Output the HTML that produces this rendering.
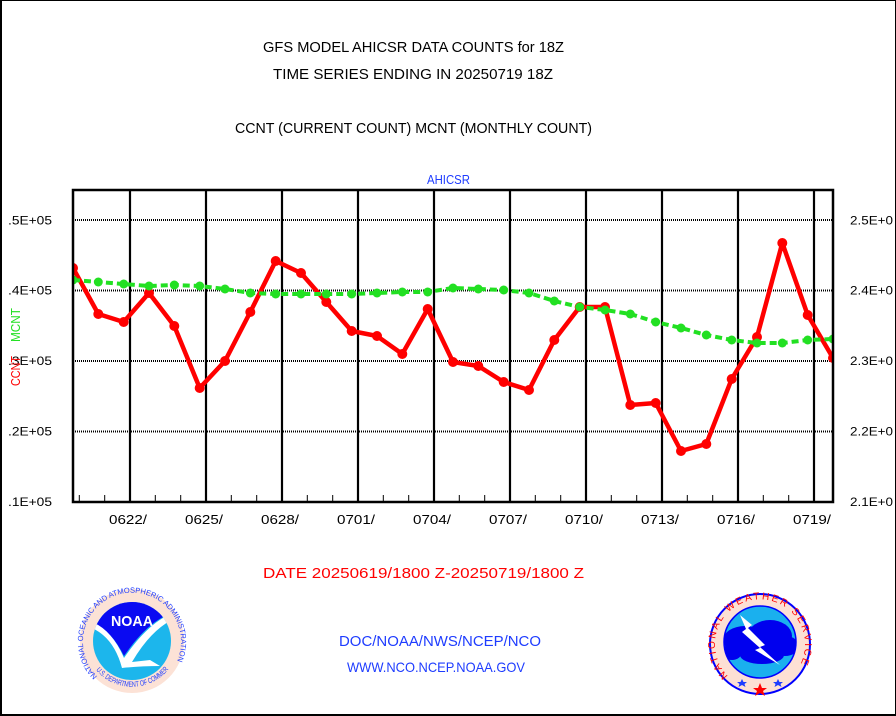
<!DOCTYPE html>
<html><head><meta charset="utf-8"><style>
html,body{margin:0;padding:0;background:#fff;}
svg{display:block;}
text{font-family:"Liberation Sans",sans-serif;}
</style></head><body>
<svg width="896" height="716" viewBox="0 0 896 716" xmlns="http://www.w3.org/2000/svg">
<rect x="0" y="0" width="896" height="716" fill="#fff"/>
<!-- page border -->
<line x1="0" y1="0.5" x2="896" y2="0.5" stroke="#000" stroke-width="1"/>
<line x1="1" y1="0" x2="1" y2="716" stroke="#000" stroke-width="2"/>
<line x1="0" y1="715" x2="896" y2="715" stroke="#000" stroke-width="2"/>
<line x1="895.5" y1="0" x2="895.5" y2="716" stroke="#000" stroke-width="1"/>

<!-- titles -->
<text x="263" y="52" font-size="14.5" textLength="301" lengthAdjust="spacingAndGlyphs" fill="#000">GFS MODEL AHICSR DATA COUNTS for 18Z</text>
<text x="273" y="79" font-size="14.5" textLength="280" lengthAdjust="spacingAndGlyphs" fill="#000">TIME SERIES ENDING IN 20250719 18Z</text>
<text x="235" y="133" font-size="14.5" textLength="357" lengthAdjust="spacingAndGlyphs" fill="#000">CCNT (CURRENT COUNT) MCNT (MONTHLY COUNT)</text>
<text x="427" y="184" font-size="13" textLength="43" lengthAdjust="spacingAndGlyphs" fill="#1e3cff">AHICSR</text>

<!-- gridlines (dotted) -->
<g stroke="#000" stroke-width="2" stroke-dasharray="1 1">
<line x1="73" y1="220" x2="833" y2="220"/>
<line x1="73" y1="290.5" x2="833" y2="290.5"/>
<line x1="73" y1="361" x2="833" y2="361"/>
<line x1="73" y1="431.5" x2="833" y2="431.5"/>
</g>
<!-- vertical major lines -->
<g stroke="#000" stroke-width="2.2">
<line x1="130" y1="190" x2="130" y2="502"/>
<line x1="206" y1="190" x2="206" y2="502"/>
<line x1="282" y1="190" x2="282" y2="502"/>
<line x1="358" y1="190" x2="358" y2="502"/>
<line x1="434" y1="190" x2="434" y2="502"/>
<line x1="510" y1="190" x2="510" y2="502"/>
<line x1="586" y1="190" x2="586" y2="502"/>
<line x1="662" y1="190" x2="662" y2="502"/>
<line x1="738" y1="190" x2="738" y2="502"/>
<line x1="814" y1="190" x2="814" y2="502"/>
</g>
<!-- minor ticks -->
<g stroke="#000" stroke-width="1">
<line x1="79.3" y1="495" x2="79.3" y2="502"/>
<line x1="104.7" y1="495" x2="104.7" y2="502"/>
<line x1="155.3" y1="495" x2="155.3" y2="502"/>
<line x1="180.7" y1="495" x2="180.7" y2="502"/>
<line x1="231.3" y1="495" x2="231.3" y2="502"/>
<line x1="256.7" y1="495" x2="256.7" y2="502"/>
<line x1="307.3" y1="495" x2="307.3" y2="502"/>
<line x1="332.7" y1="495" x2="332.7" y2="502"/>
<line x1="383.3" y1="495" x2="383.3" y2="502"/>
<line x1="408.7" y1="495" x2="408.7" y2="502"/>
<line x1="459.3" y1="495" x2="459.3" y2="502"/>
<line x1="484.7" y1="495" x2="484.7" y2="502"/>
<line x1="535.3" y1="495" x2="535.3" y2="502"/>
<line x1="560.7" y1="495" x2="560.7" y2="502"/>
<line x1="611.3" y1="495" x2="611.3" y2="502"/>
<line x1="636.7" y1="495" x2="636.7" y2="502"/>
<line x1="687.3" y1="495" x2="687.3" y2="502"/>
<line x1="712.7" y1="495" x2="712.7" y2="502"/>
<line x1="763.3" y1="495" x2="763.3" y2="502"/>
<line x1="788.7" y1="495" x2="788.7" y2="502"/>
</g>

<defs><clipPath id="pc"><rect x="73" y="190" width="760" height="312"/></clipPath></defs>
<g clip-path="url(#pc)">
<!-- CCNT red -->
<polyline fill="none" stroke="#ff0000" stroke-width="4.5" stroke-linejoin="round" points="73,268 98.3,314 123.7,322 149,293 174.3,326 199.7,388 225,361 250.3,312 275.7,261 301,273 326.3,302 351.7,331 377,336 402.3,354 427.7,309 453,362 478.3,366 503.7,382 529,390 554.3,340 579.7,307 605,307 630.3,405 655.7,403 681,451 706.3,444 731.7,379 757,337 782.3,243 807.7,315 833,358"/>
<g fill="#ff0000">
<circle cx="73" cy="268" r="5"/><circle cx="98.3" cy="314" r="5"/><circle cx="123.7" cy="322" r="5"/><circle cx="149" cy="293" r="5"/><circle cx="174.3" cy="326" r="5"/><circle cx="199.7" cy="388" r="5"/><circle cx="225" cy="361" r="5"/><circle cx="250.3" cy="312" r="5"/><circle cx="275.7" cy="261" r="5"/><circle cx="301" cy="273" r="5"/><circle cx="326.3" cy="302" r="5"/><circle cx="351.7" cy="331" r="5"/><circle cx="377" cy="336" r="5"/><circle cx="402.3" cy="354" r="5"/><circle cx="427.7" cy="309" r="5"/><circle cx="453" cy="362" r="5"/><circle cx="478.3" cy="366" r="5"/><circle cx="503.7" cy="382" r="5"/><circle cx="529" cy="390" r="5"/><circle cx="554.3" cy="340" r="5"/><circle cx="579.7" cy="307" r="5"/><circle cx="605" cy="307" r="5"/><circle cx="630.3" cy="405" r="5"/><circle cx="655.7" cy="403" r="5"/><circle cx="681" cy="451" r="5"/><circle cx="706.3" cy="444" r="5"/><circle cx="731.7" cy="379" r="5"/><circle cx="757" cy="337" r="5"/><circle cx="782.3" cy="243" r="5"/><circle cx="807.7" cy="315" r="5"/><circle cx="833" cy="358" r="5"/>
</g>
<!-- MCNT green -->
<polyline fill="none" stroke="#22e022" stroke-width="4" stroke-dasharray="7 4" points="73,280 98.3,282 123.7,284 149,286 174.3,285 199.7,286 225,289 250.3,293 275.7,294 301,294 326.3,294 351.7,294 377,293 402.3,292 427.7,292 453,288 478.3,289 503.7,290 529,293 554.3,301 579.7,307 605,310 630.3,314 655.7,322 681,328 706.3,335 731.7,340 757,343 782.3,343 807.7,340 833,339"/>
<g fill="#22e022">
<circle cx="73" cy="280" r="4.5"/><circle cx="98.3" cy="282" r="4.5"/><circle cx="123.7" cy="284" r="4.5"/><circle cx="149" cy="286" r="4.5"/><circle cx="174.3" cy="285" r="4.5"/><circle cx="199.7" cy="286" r="4.5"/><circle cx="225" cy="289" r="4.5"/><circle cx="250.3" cy="293" r="4.5"/><circle cx="275.7" cy="294" r="4.5"/><circle cx="301" cy="294" r="4.5"/><circle cx="326.3" cy="294" r="4.5"/><circle cx="351.7" cy="294" r="4.5"/><circle cx="377" cy="293" r="4.5"/><circle cx="402.3" cy="292" r="4.5"/><circle cx="427.7" cy="292" r="4.5"/><circle cx="453" cy="288" r="4.5"/><circle cx="478.3" cy="289" r="4.5"/><circle cx="503.7" cy="290" r="4.5"/><circle cx="529" cy="293" r="4.5"/><circle cx="554.3" cy="301" r="4.5"/><circle cx="579.7" cy="307" r="4.5"/><circle cx="605" cy="310" r="4.5"/><circle cx="630.3" cy="314" r="4.5"/><circle cx="655.7" cy="322" r="4.5"/><circle cx="681" cy="328" r="4.5"/><circle cx="706.3" cy="335" r="4.5"/><circle cx="731.7" cy="340" r="4.5"/><circle cx="757" cy="343" r="4.5"/><circle cx="782.3" cy="343" r="4.5"/><circle cx="807.7" cy="340" r="4.5"/><circle cx="833" cy="339" r="4.5"/>
</g>
</g>

<!-- frame -->
<rect x="73" y="190" width="760" height="312" fill="none" stroke="#000" stroke-width="2.5"/>

<!-- left y labels -->
<g font-size="11.5" fill="#000">
<text x="8" y="224.5" textLength="44" lengthAdjust="spacingAndGlyphs">.5E+05</text>
<text x="8" y="294.5" textLength="44" lengthAdjust="spacingAndGlyphs">.4E+05</text>
<text x="8" y="365" textLength="44" lengthAdjust="spacingAndGlyphs">.3E+05</text>
<text x="8" y="435.5" textLength="44" lengthAdjust="spacingAndGlyphs">.2E+05</text>
<text x="8" y="506" textLength="44" lengthAdjust="spacingAndGlyphs">.1E+05</text>
</g>
<!-- right y labels -->
<g font-size="11.5" fill="#000">
<text x="850" y="224.5" textLength="43" lengthAdjust="spacingAndGlyphs">2.5E+0</text>
<text x="850" y="294.5" textLength="43" lengthAdjust="spacingAndGlyphs">2.4E+0</text>
<text x="850" y="365" textLength="43" lengthAdjust="spacingAndGlyphs">2.3E+0</text>
<text x="850" y="435.5" textLength="43" lengthAdjust="spacingAndGlyphs">2.2E+0</text>
<text x="850" y="506" textLength="43" lengthAdjust="spacingAndGlyphs">2.1E+0</text>
</g>
<!-- axis titles -->
<text transform="translate(20,325) rotate(-90)" font-size="12.5" fill="#22e022" text-anchor="middle" textLength="34" lengthAdjust="spacingAndGlyphs">MCNT</text>
<text transform="translate(20,371) rotate(-90)" font-size="12.5" fill="#ff0000" text-anchor="middle" textLength="30" lengthAdjust="spacingAndGlyphs">CCNT</text>

<!-- x labels -->
<g font-size="13" fill="#000" text-anchor="middle">
<text x="128" y="524" textLength="38" lengthAdjust="spacingAndGlyphs">0622/</text>
<text x="204" y="524" textLength="38" lengthAdjust="spacingAndGlyphs">0625/</text>
<text x="280" y="524" textLength="38" lengthAdjust="spacingAndGlyphs">0628/</text>
<text x="356" y="524" textLength="38" lengthAdjust="spacingAndGlyphs">0701/</text>
<text x="432" y="524" textLength="38" lengthAdjust="spacingAndGlyphs">0704/</text>
<text x="508" y="524" textLength="38" lengthAdjust="spacingAndGlyphs">0707/</text>
<text x="584" y="524" textLength="38" lengthAdjust="spacingAndGlyphs">0710/</text>
<text x="660" y="524" textLength="38" lengthAdjust="spacingAndGlyphs">0713/</text>
<text x="736" y="524" textLength="38" lengthAdjust="spacingAndGlyphs">0716/</text>
<text x="812" y="524" textLength="38" lengthAdjust="spacingAndGlyphs">0719/</text>
</g>

<text x="263" y="578" font-size="14.5" fill="#ff0000" textLength="321" lengthAdjust="spacingAndGlyphs">DATE 20250619/1800 Z-20250719/1800 Z</text>

<!-- footer -->
<text x="339" y="646" font-size="14.5" fill="#1e3cff" textLength="202" lengthAdjust="spacingAndGlyphs">DOC/NOAA/NWS/NCEP/NCO</text>
<text x="347" y="672" font-size="14" fill="#1e3cff" textLength="178" lengthAdjust="spacingAndGlyphs">WWW.NCO.NCEP.NOAA.GOV</text>

<!-- NOAA logo -->
<defs>
<clipPath id="noaain"><circle cx="132" cy="641" r="39"/></clipPath>
<path id="noaatop" d="M 97.4 676.4 A 49 49 0 1 1 166.6 676.4" fill="none"/>
<path id="noaabot" d="M 96 670 A 47 47 0 0 0 168 670" fill="none"/>
</defs>
<circle cx="132" cy="641" r="52" fill="#fce2d6"/>
<g clip-path="url(#noaain)">
<rect x="90" y="598" width="86" height="90" fill="#1cb6ec"/>
<path d="M 90 598 L 176 598 L 176 612 Q 150 618 124 656 Q 110 628 90 622 Z" fill="#0a0af2"/>
<path d="M 92 622 Q 112 630 124 658 Q 150 620 176 612 L 176 618 Q 152 628 132 662 L 150 660 L 160 666 Q 140 666 122 668 Q 114 638 92 628 Z" fill="#ffffff"/>
</g>
<text x="132" y="626" font-size="15" font-weight="bold" fill="#fff" text-anchor="middle" textLength="42" lengthAdjust="spacingAndGlyphs">NOAA</text>
<text font-size="7.5" fill="#1e3cff"><textPath href="#noaatop" textLength="212" lengthAdjust="spacingAndGlyphs">NATIONAL OCEANIC AND ATMOSPHERIC ADMINISTRATION</textPath></text>
<text font-size="7.5" fill="#1e3cff"><textPath href="#noaabot" textLength="90" lengthAdjust="spacingAndGlyphs">U.S. DEPARTMENT OF COMMERCE</textPath></text>

<!-- NWS logo -->
<defs>
<clipPath id="nwsin"><circle cx="760" cy="642" r="36"/></clipPath>
<path id="nwstop" d="M 728 676 A 45 45 0 1 1 792 676" fill="none"/>
</defs>
<circle cx="760" cy="644" r="50" fill="#fde0d4" stroke="#0000ff" stroke-width="2"/>
<circle cx="760" cy="642" r="36" fill="#1ab0ee" stroke="#0000ff" stroke-width="1.5"/>
<g clip-path="url(#nwsin)">
<path d="M 730 610 Q 760 598 790 610" fill="none" stroke="#0000ff" stroke-width="1"/>
<ellipse cx="745" cy="640" rx="22" ry="14" fill="#0000ee"/>
<ellipse cx="770" cy="636" rx="22" ry="16" fill="#0000ee"/>
<ellipse cx="785" cy="646" rx="14" ry="10" fill="#0000ee"/>
<ellipse cx="732" cy="652" rx="10" ry="8" fill="#0000ee"/>
<ellipse cx="762" cy="655" rx="22" ry="9" fill="#0000ee"/>
<path d="M 740 615 L 752 625 L 748 628 L 765 645 L 760 647 L 780 665 L 755 650 L 760 648 L 742 632 L 746 629 Z" fill="#ffffff"/>
</g>
<text font-size="10" fill="#ff0000"><textPath href="#nwstop" textLength="196" lengthAdjust="spacing">NATIONAL WEATHER SERVICE</textPath></text>
<polygon points="760,683 762,688 767,688 763,691 765,696 760,693 755,696 757,691 753,688 758,688" fill="#ff0000"/>
<polygon points="742,679 743.5,682 747,682 744.5,684 745.5,687 742,685 738.5,687 739.5,684 737,682 740.5,682" fill="#1e3cff"/>
<polygon points="778,679 779.5,682 783,682 780.5,684 781.5,687 778,685 774.5,687 775.5,684 773,682 776.5,682" fill="#1e3cff"/>
</svg>
</body></html>
